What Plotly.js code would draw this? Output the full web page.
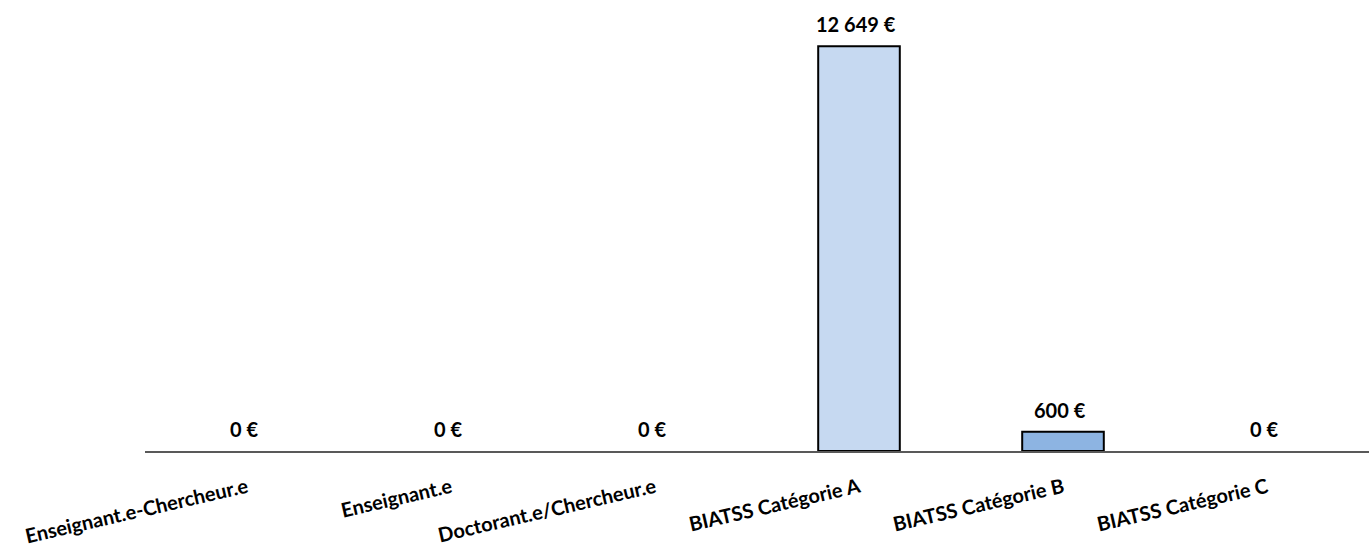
<!DOCTYPE html>
<html>
<head>
<meta charset="utf-8">
<script src="https://cdn.plot.ly/plotly-3.0.1.min.js"></script>
<style>html,body{margin:0;padding:0;background:#fff;}#chart{width:1369px;height:548px;}</style>
</head>
<body>
<div id="chart"></div>
<script>
const categories = ["Enseignant.e-Chercheur.e", "Enseignant.e", "Doctorant.e/Chercheur.e", "BIATSS Catégorie A", "BIATSS Catégorie B", "BIATSS Catégorie C"];
const values = [0, 0, 0, 12649, 600, 0];
const barColors = ["#C6D9F1", "#C6D9F1", "#C6D9F1", "#C6D9F1", "#8DB4E2", "#8DB4E2"];

function fmt(v) {
  return String(Math.round(v)).replace(/\B(?=(\d{3})+(?!\d))/g, " ") + " €";
}

const FONT = "Lato, 'Open Sans', sans-serif";

const trace = {
  type: "bar",
  x: categories,
  y: values,
  width: 0.4,
  marker: {
    color: barColors,
    line: { color: "#000000", width: values.map(v => v > 0 ? 2 : 0) }
  },
  hoverinfo: "skip"
};

const annotations = categories.map((c, i) => ({
  x: c,
  y: values[i],
  xref: "x",
  yref: "y",
  text: "<b>" + fmt(values[i]) + "</b>",
  showarrow: false,
  yanchor: "bottom",
  xanchor: "center",
  xshift: -3,
  yshift: 8,
  font: { family: FONT, size: 20, color: "#000000" }
}));

const layout = {
  width: 1369,
  height: 548,
  margin: { l: 145, r: 0, t: 3, b: 97 },
  paper_bgcolor: "#ffffff",
  plot_bgcolor: "#ffffff",
  showlegend: false,
  bargap: 0.6,
  xaxis: {
    type: "category",
    showline: true,
    linecolor: "#595959",
    linewidth: 1.5,
    ticks: "",
    tickangle: -13,
    ticklabelstandoff: 16,
    tickfont: { family: FONT, size: 20, color: "#000000", weight: "bold" },
    showgrid: false,
    zeroline: false
  },
  yaxis: {
    range: [0, 14000],
    visible: false,
    showgrid: false,
    zeroline: false
  },
  annotations: annotations
};

Plotly.newPlot("chart", [trace], layout, { displayModeBar: false, staticPlot: true });
</script>
</body>
</html>
